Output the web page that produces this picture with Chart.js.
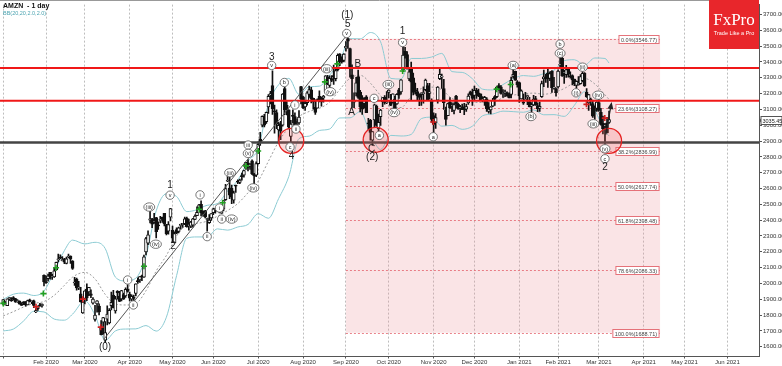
<!DOCTYPE html>
<html>
<head>
<meta charset="utf-8">
<script src="https://cdn.jsdelivr.net/npm/chart.js@4.4.0/dist/chart.umd.min.js"></script>
<style>
  html, body { margin: 0; padding: 0; background: #fff; }
  #wrap { width: 782px; height: 366px; position: relative; }
</style>
</head>
<body>
<div id="wrap"><canvas id="chart"></canvas></div>
<script>
// AMZN daily candles, Jan 2 2020 .. Mar 2021 (one value per trading day)
const open = [
  1875,1864,1860,1904,1898,1910,1905,1885,1889,1873,1882,1885,1865,1896,1885,1891,1820,1840,1864,1858,2051,
  2010,2030,2071,2041,2041,2085,2150,2163,2144,2155,2126,2167,2173,2142,2003,2027,1970,1935,1814,
  1906,1964,1946,1934,1875,1773,1870,1857,1721,1755,1641,1775,1750,1860,1926,1827,1951,1920,1902,1930,1922,1964,
  1933,1901,1911,1937,2018,2022,2045,2040,2200,2255,2400,2409,2390,2416,2369,2399,2418,2443,2372,2330,2419,
  2336,2256,2340,2329,2367,2372,2378,2411,2366,2362,2368,2404,2429,2477,2500,2456,2459,2404,2384,2415,
  2448,2467,2468,2477,2444,2470,2530,2646,2603,2601,2526,2620,2647,2639,2677,2685,2727,2762,2739,2775,2690,2685,
  2757,2912,3000,3058,3022,3115,3191,3251,3089,3080,2971,3010,3000,3232,3126,3098,2930,3062,3054,3030,3014,3244,
  3180,3115,3143,3195,3224,3170,3113,3108,3183,3178,3173,3213,3303,3252,3295,3310,3294,3351,3450,3425,3409,
  3489,3547,3485,3319,3145,3202,3307,3209,3173,3137,3179,3010,3031,2906,3033,3120,2978,3054,3149,3176,3142,
  3208,3153,3145,3165,3135,3224,3210,3350,3467,3447,3292,3363,3299,3222,3212,3189,3193,3199,3225,3250,3201,3157,
  3061,3018,3159,3294,3304,3231,3095,3061,3144,3123,3094,3184,3134,3105,3117,3117,3101,3141,3211,3208,
  3188,3221,3205,3198,3157,3158,3167,3088,3096,3120,3181,3180,3250,3243,3200,3202,3205,3193,3194,3309,3341,3275,
  3270,3167,3146,3157,3181,3149,3120,3128,3168,3124,3107,3181,3293,3304,3329,3296,3341,3235,3230,
  3242,3380,3425,3330,3319,3362,3312,3314,3292,3251,3254,3263,3282,3328,3208,3141,3166,3137,3096,
  3107,3143,3082,3012,2994,3015,3018
];
const high = [
  1898,1886,1903,1913,1911,1917,1906,1898,1890,1879,1885,1886,1895,1902,1889,1895,1841,1858,1874,1872,2055,
  2048,2059,2071,2057,2097,2135,2185,2181,2170,2159,2166,2185,2175,2144,2039,2034,2014,1975,1889,
  1954,1997,1976,1960,1910,1862,1892,1871,1765,1786,1759,1858,1841,1945,1957,1919,1955,1950,1956,1939,1973,1993,
  1945,1928,1927,1998,2035,2044,2053,2180,2292,2333,2461,2412,2444,2418,2390,2424,2420,2444,2374,2391,2475,
  2362,2326,2352,2357,2376,2380,2419,2419,2407,2392,2411,2433,2485,2500,2523,2459,2462,2413,2436,2442,
  2477,2473,2484,2492,2488,2525,2626,2722,2671,2621,2584,2622,2655,2660,2697,2716,2763,2783,2757,2782,2696,2769,
  2895,2955,3059,3069,3083,3194,3215,3344,3127,3098,3018,3025,3200,3241,3150,3098,3031,3098,3078,3039,3092,3246,
  3184,3158,3213,3248,3240,3172,3160,3167,3217,3178,3189,3314,3316,3312,3314,3380,3358,3451,3453,3433,3453,
  3528,3552,3488,3382,3204,3303,3349,3221,3188,3175,3187,3044,3037,2960,3133,3127,3070,3101,3175,3188,3213,
  3224,3195,3199,3183,3200,3234,3288,3496,3492,3465,3355,3399,3329,3266,3233,3198,3205,3242,3291,3265,3265,3167,
  3079,3074,3244,3366,3324,3290,3114,3140,3175,3141,3142,3189,3140,3125,3133,3139,3134,3199,3216,3228,
  3248,3233,3228,3198,3181,3183,3174,3143,3118,3170,3188,3248,3263,3250,3226,3222,3211,3204,3304,3351,3342,3282,
  3272,3223,3197,3208,3190,3176,3143,3189,3182,3142,3146,3279,3348,3321,3363,3338,3346,3302,3236,
  3350,3427,3434,3347,3378,3365,3338,3318,3292,3280,3308,3320,3339,3333,3232,3196,3171,3157,3122,
  3149,3163,3107,3058,3010,3050,3090
];
const low = [
  1864,1864,1860,1893,1886,1895,1880,1880,1869,1861,1866,1857,1865,1883,1872,1847,1815,1830,1855,1850,1985,
  2000,2015,2027,2026,2038,2084,2136,2156,2142,2125,2124,2161,2127,2088,1988,1958,1961,1882,1811,
  1871,1891,1923,1910,1869,1762,1819,1801,1675,1680,1626,1738,1745,1832,1846,1812,1900,1885,1889,1899,1912,1945,
  1890,1890,1890,1922,2000,2006,2018,2038,2180,2245,2383,2352,2380,2288,2341,2382,2386,2364,2306,2312,2396,
  2258,2256,2315,2320,2343,2354,2372,2355,2337,2353,2356,2403,2428,2467,2427,2426,2414,2330,2380,2399,
  2435,2445,2454,2446,2442,2459,2525,2643,2536,2504,2508,2576,2631,2630,2653,2671,2720,2712,2721,2688,2630,2675,
  2754,2872,2990,2990,3012,3075,3135,3068,2950,2978,2887,2908,2994,3067,3065,2977,2881,3015,2995,2996,3005,3134,
  3104,3094,3127,3175,3141,3101,3068,3108,3147,3120,3145,3205,3256,3238,3275,3258,3280,3344,3376,3393,3400,
  3468,3486,3303,3112,3111,3185,3170,3084,3068,3108,3079,2972,2905,2872,2985,2992,2966,2999,3117,3133,3137,
  3172,3123,3140,3090,3132,3170,3197,3339,3424,3355,3281,3160,3192,3196,3160,3124,3125,3140,3217,3162,3164,3019,
  2950,2980,3139,3288,3232,3100,3000,3061,3107,3085,3072,3110,3100,3080,3098,3066,3087,3132,3190,3126,
  3157,3170,3181,3158,3147,3125,3088,3076,3072,3117,3125,3174,3221,3196,3176,3180,3184,3172,3172,3297,3283,3241,
  3144,3165,3131,3155,3130,3115,3086,3123,3125,3085,3087,3175,3243,3271,3239,3282,3207,3228,3184,
  3235,3361,3308,3265,3302,3304,3297,3254,3250,3233,3253,3259,3273,3245,3175,3093,3125,3050,3036,
  3088,3087,3001,2945,2881,2951,3011
];
const close = [
  1898,1875,1903,1906,1891,1901,1883,1891,1869,1862,1877,1865,1892,1887,1885,1861,1828,1853,1858,1870,2009,
  2004,2049,2039,2050,2080,2133,2150,2160,2149,2134,2155,2170,2153,2095,2009,1972,1979,1884,1883,
  1953,1908,1976,1924,1902,1800,1891,1820,1676,1785,1689,1807,1830,1880,1846,1903,1940,1887,1955,1901,1963,1950,
  1907,1919,1906,1998,2011,2043,2042,2168,2283,2307,2409,2375,2393,2328,2364,2400,2410,2376,2314,2372,2474,
  2286,2316,2318,2351,2367,2380,2409,2357,2367,2388,2409,2426,2449,2497,2446,2436,2421,2410,2401,2442,
  2471,2472,2478,2460,2483,2524,2600,2647,2558,2545,2573,2615,2640,2653,2675,2713,2765,2734,2755,2692,2680,2758,
  2879,2891,3057,3000,3081,3182,3200,3105,3085,3008,2999,2962,3197,3099,3099,2987,3008,3055,3000,3033,3052,3165,
  3111,3138,3205,3225,3167,3148,3081,3162,3162,3148,3183,3312,3260,3297,3284,3307,3346,3441,3400,3401,3450,
  3499,3531,3368,3294,3149,3268,3176,3116,3102,3156,3079,3009,2954,2960,3129,2999,3019,3095,3174,3144,3148,
  3222,3125,3199,3099,3195,3190,3287,3443,3443,3363,3338,3272,3207,3217,3185,3176,3205,3207,3286,3162,3211,3036,
  3005,3048,3241,3322,3311,3143,3036,3137,3110,3128,3131,3135,3105,3117,3099,3098,3118,3185,3195,3169,
  3220,3204,3186,3162,3159,3177,3105,3102,3116,3157,3165,3241,3236,3201,3207,3206,3185,3172,3283,3322,3285,3257,
  3186,3218,3139,3162,3183,3115,3128,3165,3128,3104,3120,3263,3306,3292,3294,3327,3238,3237,3206,
  3342,3380,3312,3331,3352,3322,3305,3286,3262,3277,3268,3308,3328,3249,3180,3194,3159,3057,3093,
  3146,3094,3005,2977,3000,2952,3035.45
];

const bbIdx = [0,5,10,15,20,25,30,34,40,45,50,55,60,65,70,75,80,85,90,95,100,105,110,115,120,125,130,135,140,145,
  150,155,160,165,170,175,180,185,190,195,200,205,210,215,220,225,230,235,240,245,250,255,260,265,270,275,280,285,290,295,297];
const bbUpper = [1900,1932,1939,1924,1952,2075,2208,2274,2250,2260,2221,2040,2016,2033,2174,2459,2567,2550,2454,2466,
  2494,2505,2585,2653,2773,2853,3132,3256,3296,3195,3243,3247,3316,3406,3547,3546,3586,3527,3296,3292,
  3422,3422,3431,3454,3339,3334,3294,3228,3223,3257,3294,3314,3309,3326,3347,3408,3414,3380,3425,3422,3393];
const bbMid = [1795,1822,1851,1874,1886,1925,1988,2040,2070,2029,1931,1870,1864,1873,1954,2079,2177,2300,2370,2380,
  2394,2425,2461,2505,2573,2647,2772,2896,2986,3055,3087,3107,3146,3226,3297,3316,3266,3187,3116,3112,
  3182,3232,3241,3224,3169,3154,3144,3144,3147,3173,3190,3198,3203,3196,3207,3232,3270,3296,3261,3192,3163];
const bbLower = [1700,1712,1763,1824,1820,1775,1768,1806,1890,1800,1641,1700,1712,1713,1734,1699,1787,2050,2286,2294,
  2294,2345,2337,2357,2373,2441,2412,2536,2676,2915,2931,2967,2976,3046,3047,3086,2946,2847,2936,2932,
  2942,3042,3051,2994,2999,2974,2994,3060,3071,3089,3086,3082,3097,3066,3067,3056,3126,3212,3097,2962,2933];

// axes
const monthTicks = [0,21,40,62,83,103,125,147,168,189,211,231,253,272,292,314,334,355];
const monthLabels = ['', 'Feb 2020', 'Mar 2020', 'Apr 2020', 'May 2020', 'Jun 2020', 'Jul 2020', 'Aug 2020',
  'Sep 2020', 'Oct 2020', 'Nov 2020', 'Dec 2020', 'Jan 2021', 'Feb 2021', 'Mar 2021', 'Apr 2021', 'May 2021', 'Jun 2021'];
const priceTicks = [1600,1700,1800,1900,2000,2100,2200,2300,2400,2500,2600,2700,2800,2900,3000,3100,3200,3300,3400,3500,3600,3700];

// drawn objects
const trendLine = [[49.5, 1650], [168.5, 3570]];
const redLevels = [3362, 3155];
const blackLevel = 2891;
const fibRange = [168, 322];
const fibPct = ['0.0', '23.6', '38.2', '50.0', '61.8', '78.6', '100.0'];
const fibLevels = [3546.77, 3108.27, 2836.99, 2617.74, 2398.48, 2086.33, 1688.71];
const redCircles = [[141.2, 2901], [182.6, 2908], [297, 2901]];
const arrowPts = [[295.4, 2941], [298, 3128]];
const lastPrice = 3035.45;

const waveLabels = [
  [49.9, 1598, '(0)'], [81.8, 2621, '1'], [83.2, 2234, '2'], [131.6, 3430, '3'], [141.4, 2802, '4'],
  [168.7, 3696, '(1)'], [168.9, 3638, '5'], [170.8, 3081, 'A'], [173.8, 3384, 'B'], [180.6, 2847, 'C'],
  [180.9, 2795, '(2)'], [195.8, 3592, '1'], [295, 2737, '2']
];
const circledLabels = [
  [81.8, 2558, 'v'], [131.6, 3378, 'v'], [168.4, 3580, 'v'], [195.8, 3523, 'v'],
  [295, 2851, '(v)'], [295, 2788, 'c'], [140.6, 2862, 'c'], [137.8, 3270, 'b'], [143, 3128, 'i'], [143.5, 2976, 'ii'],
  [181.8, 3170, 'c'], [184.4, 2936, 'a'], [188.8, 3257, '(iii)'], [191.6, 3080, '(iv)'], [210.8, 2927, 'a'],
  [250, 3378, '(a)'], [258.7, 3055, '(b)'], [273, 3513, 'b'], [273, 3455, '(c)'], [284, 3367, '(ii)'],
  [280.8, 3205, '(i)'], [291.7, 3190, '(iv)'], [289.3, 3009, '(iii)'], [158.6, 3357, '(iii)'], [160.2, 3212, '(iv)'],
  [120.1, 2875, 'iii'], [120.1, 2822, '(v)'], [111.2, 2700, '(iii)'], [122.6, 2604, '(iv)'], [71.6, 2483, '(iii)'],
  [74.8, 2248, '(iv)'], [96.5, 2560, 'i'], [100, 2296, 'ii'], [106, 2477, 'i'], [107.1, 2407, 'ii'],
  [112, 2407, '(iv)'], [61, 2022, 'i'], [63.8, 1864, 'ii']
];
const greenCrosses = [[0.05,1874],[19.7,1936],[25.9,2099],[69,2109],[96.1,2469],[107.6,2510],[119,2743],[125,2837],
  [157.7,3274],[163.8,3388],[195.8,3343],[241.9,3228],[248.8,3257]];
const redCrosses = [[16.1,1853],[39,1901],[47.8,1724],[210.8,3020],[281.9,3207],[285.9,3132],[294.9,3045]];

const FONT = '"Liberation Sans", Arial, sans-serif';
Chart.defaults.font.family = FONT;

const bars = close.map((c, i) => i);
const pts = (xs, ys) => xs.map((v, k) => ({ x: v, y: ys[k] }));

const overlay = {
  id: 'overlay',
  beforeDatasetsDraw(chart) {
    const { ctx, scales: { x, y } } = chart;
    const x0 = x.getPixelForValue(fibRange[0]);
    const x1 = x.getPixelForValue(fibRange[1]);
    const yt = y.getPixelForValue(fibLevels[0]);
    const yb = y.getPixelForValue(fibLevels[fibLevels.length - 1]);
    ctx.save();
    ctx.fillStyle = 'rgba(236,150,160,0.26)';
    ctx.fillRect(x0, yt, x1 - x0, yb - yt);
    ctx.strokeStyle = 'rgba(225,90,100,0.75)';
    ctx.lineWidth = 1;
    ctx.setLineDash([2, 2]);
    fibLevels.forEach(p => {
      const yy = Math.round(y.getPixelForValue(p)) + 0.5;
      ctx.beginPath(); ctx.moveTo(x0, yy); ctx.lineTo(x1, yy); ctx.stroke();
    });
    ctx.restore();
  },
  afterDatasetsDraw(chart) {
    const { ctx, chartArea: a, scales: { x, y } } = chart;
    const px = v => x.getPixelForValue(v);
    const py = v => y.getPixelForValue(v);
    ctx.save();

    // horizontal levels
    ctx.lineWidth = 2;
    ctx.strokeStyle = '#f01818';
    redLevels.forEach(p => {
      ctx.beginPath(); ctx.moveTo(a.left, py(p)); ctx.lineTo(a.right, py(p)); ctx.stroke();
    });
    ctx.lineWidth = 2.5;
    ctx.strokeStyle = '#444';
    ctx.beginPath(); ctx.moveTo(a.left, py(blackLevel)); ctx.lineTo(a.right, py(blackLevel)); ctx.stroke();

    // fibo labels
    ctx.font = '5.5px ' + FONT;
    ctx.textBaseline = 'middle';
    ctx.textAlign = 'right';
    const xr = px(fibRange[1]) - 1;
    fibLevels.forEach((p, k) => {
      const t = fibPct[k] + '%(' + p.toFixed(2) + ')';
      const w = ctx.measureText(t).width + 4;
      const yy = Math.round(py(p)) + 0.5;
      ctx.fillStyle = '#fff';
      ctx.fillRect(xr - w, yy - 4, w, 8);
      ctx.strokeStyle = 'rgba(225,90,100,0.85)';
      ctx.lineWidth = 1;
      ctx.strokeRect(xr - w, yy - 4, w, 8);
      ctx.fillStyle = '#444';
      ctx.fillText(t, xr - 2, yy + 0.5);
    });

    // red circles
    redCircles.forEach(([i, p]) => {
      ctx.beginPath();
      ctx.arc(px(i), py(p), 12.5, 0, Math.PI * 2);
      ctx.fillStyle = 'rgba(240,90,90,0.22)';
      ctx.fill();
      ctx.strokeStyle = '#e52222';
      ctx.lineWidth = 1.3;
      ctx.stroke();
    });

    // signal crosses
    const cross = (list, col) => {
      ctx.strokeStyle = col;
      ctx.lineWidth = 1.6;
      list.forEach(([i, p]) => {
        const cx = px(i), cy = py(p);
        ctx.beginPath();
        ctx.moveTo(cx - 3, cy); ctx.lineTo(cx + 3, cy);
        ctx.moveTo(cx, cy - 3); ctx.lineTo(cx, cy + 3);
        ctx.stroke();
      });
    };
    cross(greenCrosses, '#22a022');
    cross(redCrosses, '#d02020');

    // arrow
    const ax0 = px(arrowPts[0][0]), ay0 = py(arrowPts[0][1]);
    const ax1 = px(arrowPts[1][0]), ay1 = py(arrowPts[1][1]);
    ctx.strokeStyle = '#222';
    ctx.fillStyle = '#222';
    ctx.lineWidth = 1.2;
    ctx.beginPath(); ctx.moveTo(ax0, ay0); ctx.lineTo(ax1, ay1); ctx.stroke();
    const ang = Math.atan2(ay1 - ay0, ax1 - ax0);
    ctx.beginPath();
    ctx.moveTo(ax1 + Math.cos(ang) * 3, ay1 + Math.sin(ang) * 3);
    ctx.lineTo(ax1 + Math.cos(ang + 2.5) * 5, ay1 + Math.sin(ang + 2.5) * 5);
    ctx.lineTo(ax1 + Math.cos(ang - 2.5) * 5, ay1 + Math.sin(ang - 2.5) * 5);
    ctx.closePath(); ctx.fill();

    // circled wave labels
    ctx.textAlign = 'center';
    ctx.textBaseline = 'middle';
    ctx.font = '5.5px ' + FONT;
    circledLabels.forEach(([i, p, t]) => {
      const cx = px(i), cy = py(p);
      const w = ctx.measureText(t).width;
      const r = Math.max(4.2, w / 2 + 1.8);
      ctx.beginPath();
      ctx.ellipse(cx, cy, r, 4.2, 0, 0, Math.PI * 2);
      ctx.fillStyle = '#fff';
      ctx.fill();
      ctx.strokeStyle = '#555';
      ctx.lineWidth = 0.8;
      ctx.stroke();
      ctx.fillStyle = '#222';
      ctx.fillText(t, cx, cy + 0.3);
    });

    // main wave labels
    ctx.font = '10px ' + FONT;
    ctx.fillStyle = '#222';
    waveLabels.forEach(([i, p, t]) => ctx.fillText(t, px(i), py(p)));

    ctx.restore();
  },
  afterDraw(chart) {
    const { ctx, chartArea: a, scales: { y } } = chart;
    ctx.save();
    // top frame
    ctx.strokeStyle = '#999';
    ctx.lineWidth = 1;
    ctx.beginPath(); ctx.moveTo(0, 0.5); ctx.lineTo(a.right, 0.5); ctx.stroke();

    // last price tag
    const yy = Math.round(y.getPixelForValue(lastPrice)) + 0.5;
    ctx.fillStyle = '#fff';
    ctx.fillRect(a.right + 2, yy - 4, 21, 8);
    ctx.strokeStyle = '#555';
    ctx.strokeRect(a.right + 2, yy - 4, 21, 8);
    ctx.beginPath(); ctx.moveTo(a.right, yy); ctx.lineTo(a.right + 2, yy - 2); ctx.lineTo(a.right + 2, yy + 2); ctx.closePath();
    ctx.fillStyle = '#555'; ctx.fill();
    ctx.fillStyle = '#222';
    ctx.font = '5.5px ' + FONT;
    ctx.textAlign = 'left';
    ctx.textBaseline = 'middle';
    ctx.fillText(lastPrice.toFixed(2), a.right + 3.5, yy + 0.5);

    // header
    ctx.textBaseline = 'alphabetic';
    ctx.font = 'bold 7px ' + FONT;
    ctx.fillStyle = '#111';
    ctx.fillText('AMZN  - 1 day', 3, 8);
    ctx.font = '5.5px ' + FONT;
    ctx.fillStyle = '#4aa3b0';
    ctx.fillText('BB(20,20,2.0,2.0)', 3, 14.5);

    // logo
    ctx.fillStyle = '#e8262b';
    ctx.fillRect(709, 0, a.right - 709, 49);
    ctx.fillStyle = '#fff';
    ctx.textAlign = 'center';
    ctx.font = '17px "Liberation Serif", serif';
    ctx.fillText('FxPro', (709 + a.right) / 2, 25);
    ctx.font = '5.5px ' + FONT;
    ctx.fillText('Trade Like a Pro', (709 + a.right) / 2, 35);
    ctx.restore();
  }
};

const lineDs = (data, color, extra) => Object.assign({
  type: 'line', data, borderColor: color, borderWidth: 1, pointRadius: 0,
  cubicInterpolationMode: 'monotone', fill: false, order: 5
}, extra || {});

new Chart(document.getElementById('chart'), {
  type: 'bar',
  data: {
    datasets: [
      lineDs(pts(bbIdx, bbUpper), '#8ccbd3'),
      lineDs(pts(bbIdx, bbLower), '#8ccbd3'),
      lineDs(pts(bbIdx, bbMid), '#9a9a9a', { borderDash: [2, 2] }),
      {
        type: 'bar',
        data: bars.map(i => ({ x: i, y: [low[i], high[i]] })),
        backgroundColor: '#111',
        barThickness: 1,
        grouped: false,
        order: 3
      },
      {
        type: 'bar',
        data: bars.map(i => ({ x: i, y: [open[i], close[i]] })),
        backgroundColor: bars.map(i => close[i] >= open[i] ? '#fff' : '#111'),
        borderColor: '#111',
        borderWidth: 1,
        borderSkipped: false,
        barThickness: 3,
        minBarLength: 1,
        grouped: false,
        order: 2
      },
      lineDs(trendLine.map(([i, p]) => ({ x: i, y: p })), '#555', { order: 1, cubicInterpolationMode: 'default', tension: 0 })
    ]
  },
  options: {
    responsive: true,
    maintainAspectRatio: false,
    animation: false,
    devicePixelRatio: 1,
    layout: { padding: 0 },
    plugins: { legend: { display: false }, tooltip: { enabled: false } },
    scales: {
      x: {
        type: 'linear',
        position: 'bottom',
        min: -1.57,
        max: 370.5,
        offset: false,
        afterBuildTicks: s => { s.ticks = monthTicks.map(v => ({ value: v })); },
        afterFit: s => { s.height = 9.5; },
        ticks: {
          callback: v => monthLabels[monthTicks.indexOf(v)],
          autoSkip: false, maxRotation: 0, padding: 0,
          font: { size: 6 }, color: '#333'
        },
        grid: { offset: false, color: '#bdbdbd', lineWidth: 1, tickLength: 2, tickColor: '#555' },
        border: { display: true, color: '#555', dash: [2, 2] }
      },
      y: {
        type: 'linear',
        position: 'right',
        min: 1538.4,
        max: 3762.4,
        beginAtZero: false,
        afterBuildTicks: s => { s.ticks = priceTicks.map(v => ({ value: v })); },
        afterFit: s => { s.width = 23; },
        ticks: {
          callback: v => v.toFixed(2),
          padding: 1, font: { size: 6 }, color: '#333'
        },
        grid: { drawOnChartArea: false, tickLength: 3, tickColor: '#555' },
        border: { display: true, color: '#555' }
      }
    }
  },
  plugins: [overlay]
});
</script>
</body>
</html>
